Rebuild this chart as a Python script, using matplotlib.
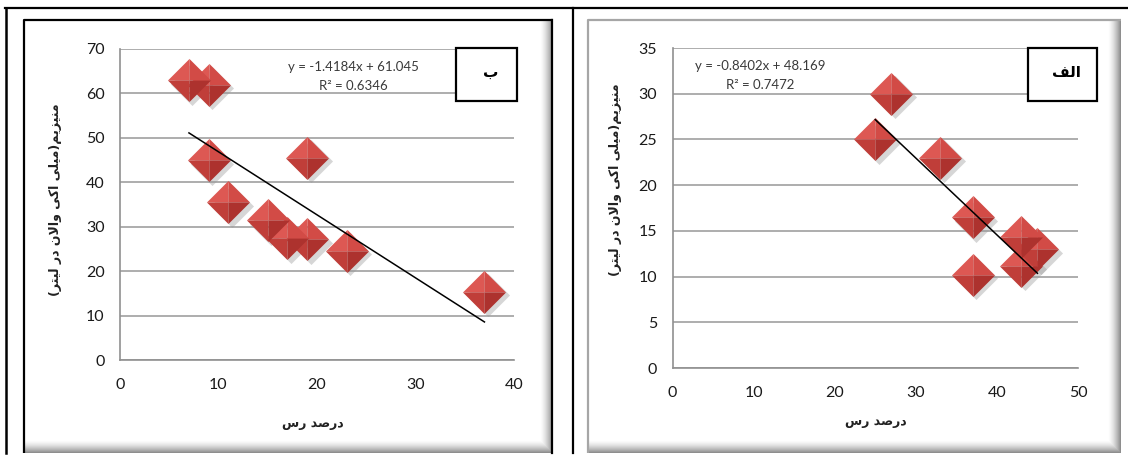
import numpy as np
import matplotlib
matplotlib.use("Agg")
import matplotlib.pyplot as plt
from matplotlib.path import Path
from matplotlib.patches import Rectangle
from matplotlib.transforms import ScaledTranslation

# panel "ب" (left)
clay_b = [7, 9, 9, 11, 15, 17, 19, 19, 23, 37]
mg_b = [63, 62, 45, 35.5, 31.5, 27.4, 27.2, 45.5, 24.6, 15.4]
slope_b, icept_b, r2_b = -1.4184, 61.045, 0.6346

# panel "الف" (right)
clay_a = [27, 25, 33, 37, 37, 43, 43, 45]
mg_a = [30, 25, 23, 16.5, 10.2, 14.3, 11.2, 13]
slope_a, icept_a, r2_a = -0.8402, 48.169, 0.7472

xlabel_txt = "درصد رس"
ylabel_txt = "منیزیم(میلی اکی والان در لیتر)"

# matplotlib has no arabic shaping, so do it by hand with presentation forms
FORMS = {
    'ا': ('\uFE8D', '\uFE8E'),
    'ب': ('\uFE8F', '\uFE90', '\uFE91', '\uFE92'),
    'ت': ('\uFE95', '\uFE96', '\uFE97', '\uFE98'),
    'د': ('\uFEA9', '\uFEAA'),
    'ر': ('\uFEAD', '\uFEAE'),
    'ز': ('\uFEAF', '\uFEB0'),
    'س': ('\uFEB1', '\uFEB2', '\uFEB3', '\uFEB4'),
    'ص': ('\uFEB9', '\uFEBA', '\uFEBB', '\uFEBC'),
    'ف': ('\uFED1', '\uFED2', '\uFED3', '\uFED4'),
    'ل': ('\uFEDD', '\uFEDE', '\uFEDF', '\uFEE0'),
    'م': ('\uFEE1', '\uFEE2', '\uFEE3', '\uFEE4'),
    'ن': ('\uFEE5', '\uFEE6', '\uFEE7', '\uFEE8'),
    'و': ('\uFEED', '\uFEEE'),
    'ی': ('\uFBFC', '\uFBFD', '\uFBFE', '\uFBFF'),
    'ک': ('\uFB8E', '\uFB8F', '\uFB90', '\uFB91'),
}


def shape(text):
    out = []
    i = 0
    n = len(text)
    while i < n:
        c = text[i]
        if c not in FORMS:
            out.append(c)
            i += 1
            continue
        prev = text[i - 1] if i > 0 else ''
        link_prev = prev in FORMS and len(FORMS[prev]) == 4
        if c == 'ل' and i + 1 < n and text[i + 1] == 'ا':
            out.append('\uFEFC' if link_prev else '\uFEFB')
            i += 2
            continue
        nxt = text[i + 1] if i + 1 < n else ''
        link_next = len(FORMS[c]) == 4 and nxt in FORMS
        f = FORMS[c]
        if link_prev and link_next:
            g = f[3]
        elif link_prev:
            g = f[1]
        elif link_next:
            g = f[2]
        else:
            g = f[0]
        out.append(g)
        i += 1
    vis = ''.join(reversed(out))
    return vis.translate(str.maketrans('()', ')('))


W, H = 1128, 455
fig = plt.figure(figsize=(W / 100, H / 100), dpi=100)
fig.patch.set_facecolor('white')

# pixel canvas for frames, boxes and labels
bg = fig.add_axes([0, 0, 1, 1], zorder=-5)
bg.set_xlim(0, W)
bg.set_ylim(H, 0)
bg.axis('off')


def chart_area(x0, y0, x1, y1, edge, shade_w=14):
    w, h = int(x1 - x0), int(y1 - y0)
    xs = np.arange(w)
    ys = np.arange(h)
    rx = np.clip((xs - (w - shade_w)) / shade_w, 0, 1) ** 1.6
    ry = np.clip((ys - (h - shade_w)) / shade_w, 0, 1) ** 1.6
    dark = np.maximum(rx[None, :], ry[:, None]) * 0.5
    bg.imshow(1 - dark, cmap='gray', vmin=0, vmax=1, extent=(x0, x1, y1, y0),
              aspect='auto', interpolation='bilinear', zorder=0)
    bg.plot([x0, x0, x1], [y1, y0, y0], color=edge, lw=1.6, zorder=2,
            solid_capstyle='butt')


# table grid
bg.plot([5, W], [7.5, 7.5], color='black', lw=1.6)
bg.plot([6, 6], [7.5, 453], color='black', lw=1.8)
bg.plot([573, 573], [7.5, 453], color='black', lw=1.6)

chart_area(24, 20, 553, 453, 'black')
bg.plot([552, 552], [20, 453], color='black', lw=1.6)
chart_area(588, 20, 1121, 453, '#a6a6a6')

# faceted diamond marker
facets = [
    ([(0, 0), (-1, 0), (0, 1), (0, 0)], '#dd5853'),
    ([(0, 0), (0, 1), (1, 0), (0, 0)], '#d24b46'),
    ([(0, 0), (-1, 0), (0, -1), (0, 0)], '#c03e39'),
    ([(0, 0), (1, 0), (0, -1), (0, 0)], '#ad322e'),
]
diamond = Path([(-1, 0), (0, 1), (1, 0), (0, -1), (-1, 0)])
MS = 31


def panel(rect, xs, ys, slope, icept, r2, xmax, ymax, ystep, tag, eq_xy, tag_box, ylab_xy):
    ax = fig.add_axes(rect)
    ax.set_facecolor('none')
    ax.set_xlim(0, xmax)
    ax.set_ylim(0, ymax)
    ax.set_xticks(np.arange(0, xmax + 1, 10))
    ax.set_yticks(np.arange(0, ymax + 1, ystep))
    ax.grid(axis='y', color='#a0a0a0', lw=1.2)
    ax.set_axisbelow(True)
    for s in ['top', 'right']:
        ax.spines[s].set_visible(False)
    for s in ['left', 'bottom']:
        ax.spines[s].set_color('#909090')
        ax.spines[s].set_linewidth(1.2)
    ax.tick_params(length=0, labelsize=11.5, labelcolor='#1a1a1a')
    ax.tick_params(axis='x', pad=13)
    ax.tick_params(axis='y', pad=11)
    for lab in ax.get_xticklabels() + ax.get_yticklabels():
        lab.set_family('Lato')

    shadow = ax.transData + ScaledTranslation(2.5 / 72, -2.5 / 72, fig.dpi_scale_trans)
    ax.plot(xs, ys, ls='none', marker=diamond, ms=MS, mfc='#9a9a9a', mec='none',
            alpha=0.4, transform=shadow, clip_on=False, zorder=3)
    for verts, col in facets:
        ax.plot(xs, ys, ls='none', marker=Path(verts), ms=MS, mfc=col, mec='none',
                clip_on=False, zorder=4)

    tx = np.array([min(xs), max(xs)])
    ax.plot(tx, slope * tx + icept, color='black', lw=1.1, zorder=6)

    ex, ey = eq_xy
    bg.text(ex, ey, f"y = {slope}x + {icept}", ha='center', va='center',
            fontsize=9.5, color='#3a3a3a', family='Lato')
    bg.text(ex, ey + 19, f"R² = {r2}", ha='center', va='center',
            fontsize=9.5, color='#3a3a3a', family='Lato')

    bx0, by0, bx1, by1 = tag_box
    ax.add_patch(Rectangle((bx0, by0), bx1 - bx0, by1 - by0, transform=bg.transData,
                           facecolor='white', edgecolor='black', lw=1.6,
                           clip_on=False, zorder=8))
    ax.text((bx0 + bx1) / 2 + 4, (by0 + by1) / 2 - 2, shape(tag), transform=bg.transData,
            ha='center', va='center', fontsize=11, fontweight='bold',
            family='DejaVu Sans', zorder=9)

    lx, ly = ylab_xy
    bg.text(lx, ly, shape(ylabel_txt), rotation=90, ha='center', va='center',
            fontsize=9, fontweight='bold', family='DejaVu Sans', color='#222222')
    return ax


axb = panel([120 / W, 1 - 360 / H, 394 / W, 311 / H], clay_b, mg_b,
            slope_b, icept_b, r2_b, 40, 70, 10, 'ب',
            (353, 67), (456, 48, 517, 101), (56, 200))
bg.text(313, 423, shape(xlabel_txt), ha='center', va='center', fontsize=9,
        fontweight='bold', family='DejaVu Sans', color='#222222')

axa = panel([672.5 / W, 1 - 368 / H, 405.5 / W, 320 / H], clay_a, mg_a,
            slope_a, icept_a, r2_a, 50, 35, 5, 'الف',
            (760, 66), (1028, 48, 1097, 101), (616, 180))
bg.text(876, 422, shape(xlabel_txt), ha='center', va='center', fontsize=9,
        fontweight='bold', family='DejaVu Sans', color='#222222')

fig.savefig('out.png', dpi=100)
